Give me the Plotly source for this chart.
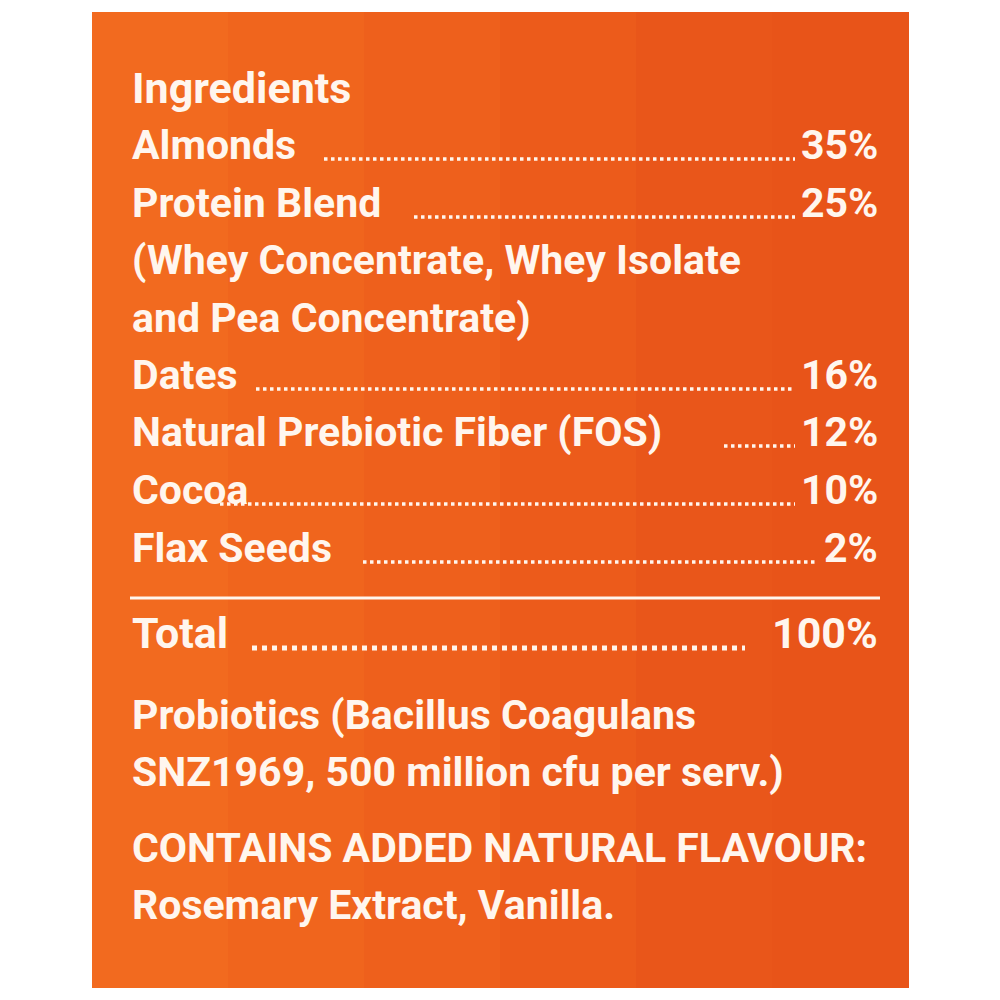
import plotly.graph_objects as go

title = "Ingredients"
items = ["Almonds", "Protein Blend", "Dates", "Natural Prebiotic Fiber (FOS)", "Cocoa", "Flax Seeds"]
percents = [35, 25, 16, 12, 10, 2]
note_blend = ["(Whey Concentrate, Whey Isolate", "and Pea Concentrate)"]
total_label = "Total"
total_value = 100
footer = ["Probiotics (Bacillus Coagulans", "SNZ1969, 500 million cfu per serv.)",
          "CONTAINS ADDED NATURAL FLAVOUR:", "Rosemary Extract, Vanilla."]

FONT = "Liberation Sans Narrow, Roboto, Arial"
WHITE = "#fff6ee"

fig = go.Figure()
# page has an 8px body margin, so shift the coordinate window to compensate
fig.update_layout(
    width=1000, height=1000, margin=dict(l=0, r=0, t=0, b=0),
    paper_bgcolor="white", plot_bgcolor="white", showlegend=False,
    xaxis=dict(range=[8, 1008], visible=False, fixedrange=True),
    yaxis=dict(range=[1008, 8], visible=False, fixedrange=True),
)

cols = ["#f26a1f", "#f0651d", "#ee601c", "#ec5b1b", "#e9561a", "#e85419"]
w = (908 - 92) / len(cols)
for i, c in enumerate(cols):
    fig.add_shape(type="rect", x0=92 + i * w, x1=92 + (i + 1) * w + 1, y0=12, y1=988,
                  fillcolor=c, line_width=0, layer="below")

def txt(x, y, s, anchor="left", size=41):
    fig.add_annotation(x=x, y=y, text=f"<b>{s}</b>", showarrow=False,
                       xanchor=anchor, yanchor="middle",
                       font=dict(family=FONT, size=size, color=WHITE))

txt(130, 88, title, size=43)

rows_y = [145, 203, 375, 432, 490, 548]
label_end = [318, 408, 250, 718, 214, 357]
for name, p, y, xe in zip(items, percents, rows_y, label_end):
    txt(130, y, name)
    txt(880, y, f"{p}%", anchor="right")
    fig.add_shape(type="line", x0=xe + 6, x1=795 if p >= 10 else 815, y0=y + 14, y1=y + 14,
                  line=dict(color=WHITE, width=3.5, dash="dot"))

txt(130, 260, note_blend[0])
txt(130, 318, note_blend[1])

fig.add_shape(type="line", x0=130, x1=880, y0=598, y1=598, line=dict(color=WHITE, width=3))
txt(130, 633, total_label, size=43)
txt(880, 633, f"{total_value}%", anchor="right", size=43)
fig.add_shape(type="line", x0=252, x1=745, y0=648, y1=648,
              line=dict(color=WHITE, width=5, dash="dot"))

for s, y in zip(footer, [715, 772, 848, 905]):
    txt(130, y, s)

fig.write_html("out.html")
